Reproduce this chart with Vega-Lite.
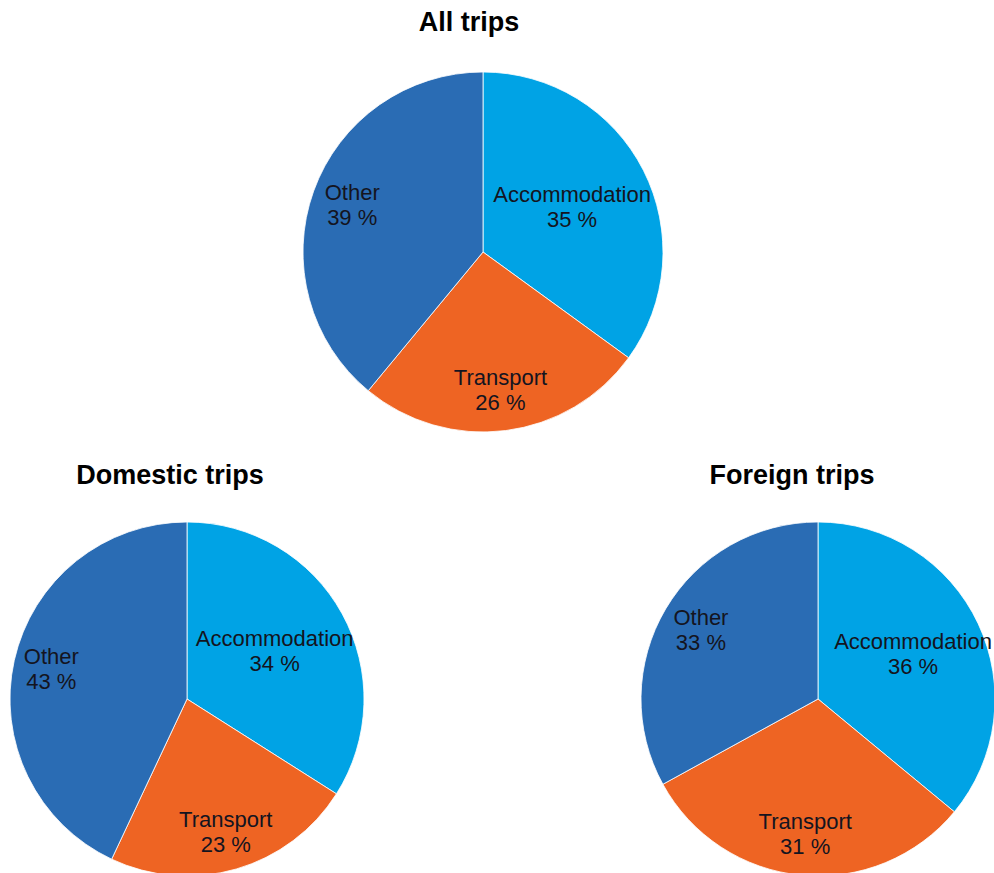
{
  "$schema": "https://vega.github.io/schema/vega-lite/v6.json",
  "padding": {"top": 9, "left": 0, "right": 0, "bottom": 0},
  "background": "white",
  "data": {
    "values": [
      {"trip": "All trips", "category": "Accommodation", "idx": 1, "share": 35},
      {"trip": "All trips", "category": "Transport", "idx": 2, "share": 26},
      {"trip": "All trips", "category": "Other", "idx": 3, "share": 39},
      {"trip": "Domestic trips", "category": "Accommodation", "idx": 1, "share": 34},
      {"trip": "Domestic trips", "category": "Transport", "idx": 2, "share": 23},
      {"trip": "Domestic trips", "category": "Other", "idx": 3, "share": 43},
      {"trip": "Foreign trips", "category": "Accommodation", "idx": 1, "share": 36},
      {"trip": "Foreign trips", "category": "Transport", "idx": 2, "share": 31},
      {"trip": "Foreign trips", "category": "Other", "idx": 3, "share": 33}
    ]
  },
  "transform": [
    {"calculate": "datum.category + '\\n' + datum.share + ' %'", "as": "label"}
  ],
  "spacing": 28,
  "vconcat": [
    {
      "width": 966,
      "height": 360,
      "title": {"text": "All trips", "dx": -14, "offset": 33},
      "transform": [{"filter": "datum.trip === 'All trips'"}],
      "encoding": {
        "theta": {"field": "share", "type": "quantitative", "stack": true},
        "order": {"field": "idx", "type": "quantitative"}
      },
      "layer": [
        {
          "mark": {"type": "arc", "stroke": "#ffffff", "strokeWidth": 0.8},
          "encoding": {
            "color": {"field": "category", "type": "nominal", "legend": null,
              "scale": {"domain": ["Accommodation", "Transport", "Other"], "range": ["#00A3E5", "#EE6423", "#2A6CB4"]}}
          }
        },
        {
          "mark": {"type": "text", "radius": 100, "dy": -12, "fontSize": 22, "lineHeight": 25, "lineBreak": "\n", "align": "center", "baseline": "middle", "color": "#141420", "font": "Liberation Sans"},
          "encoding": {
            "text": {"condition": {"test": "datum.category === 'Accommodation'", "field": "label"}, "value": ""}
          }
        },
        {
          "mark": {"type": "text", "radius": 139, "dy": -12, "fontSize": 22, "lineHeight": 25, "lineBreak": "\n", "align": "center", "baseline": "middle", "color": "#141420", "font": "Liberation Sans"},
          "encoding": {
            "text": {"condition": {"test": "datum.category !== 'Accommodation'", "field": "label"}, "value": ""}
          }
        }
      ]
    },
    {
      "spacing": 265,
      "hconcat": [
        {
          "width": 374,
          "height": 354,
          "title": {"text": "Domestic trips", "dx": -17, "offset": 30},
          "transform": [{"filter": "datum.trip === 'Domestic trips'"}],
          "encoding": {
            "theta": {"field": "share", "type": "quantitative", "stack": true},
            "order": {"field": "idx", "type": "quantitative"}
          },
          "layer": [
            {
              "mark": {"type": "arc", "stroke": "#ffffff", "strokeWidth": 0.8},
              "encoding": {
                "color": {"field": "category", "type": "nominal", "legend": null,
                  "scale": {"domain": ["Accommodation", "Transport", "Other"], "range": ["#00A3E5", "#EE6423", "#2A6CB4"]}}
              }
            },
            {
              "mark": {"type": "text", "radius": 100, "dy": -12, "fontSize": 22, "lineHeight": 25, "lineBreak": "\n", "align": "center", "baseline": "middle", "color": "#141420", "font": "Liberation Sans"},
              "encoding": {
                "text": {"condition": {"test": "datum.category === 'Accommodation'", "field": "label"}, "value": ""}
              }
            },
            {
              "mark": {"type": "text", "radius": 139, "dy": -12, "fontSize": 22, "lineHeight": 25, "lineBreak": "\n", "align": "center", "baseline": "middle", "color": "#141420", "font": "Liberation Sans"},
              "encoding": {
                "text": {"condition": {"test": "datum.category !== 'Accommodation'", "field": "label"}, "value": ""}
              }
            }
          ]
        },
        {
          "width": 354,
          "height": 354,
          "title": {"text": "Foreign trips", "dx": -26, "offset": 30},
          "transform": [{"filter": "datum.trip === 'Foreign trips'"}],
          "encoding": {
            "theta": {"field": "share", "type": "quantitative", "stack": true},
            "order": {"field": "idx", "type": "quantitative"}
          },
          "layer": [
            {
              "mark": {"type": "arc", "stroke": "#ffffff", "strokeWidth": 0.8},
              "encoding": {
                "color": {"field": "category", "type": "nominal", "legend": null,
                  "scale": {"domain": ["Accommodation", "Transport", "Other"], "range": ["#00A3E5", "#EE6423", "#2A6CB4"]}}
              }
            },
            {
              "mark": {"type": "text", "radius": 105, "dy": -12, "fontSize": 22, "lineHeight": 25, "lineBreak": "\n", "align": "center", "baseline": "middle", "color": "#141420", "font": "Liberation Sans"},
              "encoding": {
                "text": {"condition": {"test": "datum.category === 'Accommodation'", "field": "label"}, "value": ""}
              }
            },
            {
              "mark": {"type": "text", "radius": 136, "dy": -12, "fontSize": 22, "lineHeight": 25, "lineBreak": "\n", "align": "center", "baseline": "middle", "color": "#141420", "font": "Liberation Sans"},
              "encoding": {
                "text": {"condition": {"test": "datum.category !== 'Accommodation'", "field": "label"}, "value": ""}
              }
            }
          ]
        }
      ]
    }
  ],
  "config": {
    "view": {"stroke": null},
    "title": {"fontSize": 27, "fontWeight": "bold", "font": "Liberation Sans", "color": "#000000", "anchor": "middle"}
  }
}
